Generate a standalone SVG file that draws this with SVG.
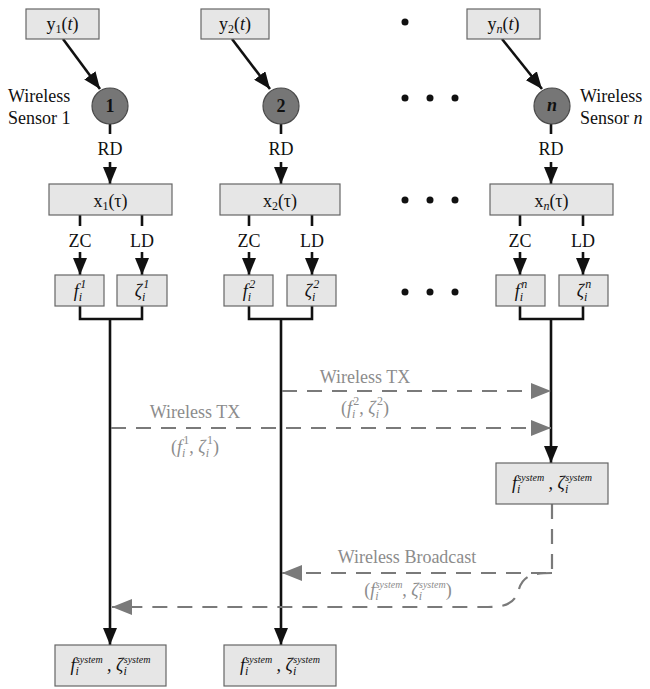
<svg xmlns="http://www.w3.org/2000/svg" width="650" height="689" viewBox="0 0 650 689" font-family="Liberation Serif, Times New Roman, serif">
<style>
  .box{fill:#e6e6e6;stroke:#666;stroke-width:1.2}
  .node{fill:#767676;stroke:#4a4a4a;stroke-width:1.2}
  .t{font-family:'Liberation Serif',serif;font-size:18px;fill:#111}
  .g{font-family:'Liberation Serif',serif;font-size:18px;fill:#8c8c8c}
  .i{font-style:italic}
  .s{font-size:12px}
  .ss{font-size:10px}
  .blk{stroke:#111;stroke-width:2.6;fill:none}
  .dash{stroke:#7a7a7a;stroke-width:2.2;fill:none;stroke-dasharray:15 10}
  .dot{fill:#111}
</style>
<defs>
  <marker id="ab" viewBox="0 0 17 14" refX="17" refY="7" markerWidth="17" markerHeight="14" markerUnits="userSpaceOnUse" orient="auto">
    <path d="M0,0 L17,7 L0,14 z" fill="#111"/>
  </marker>
  <marker id="ag" viewBox="0 0 20 16" refX="20" refY="8" markerWidth="20" markerHeight="16" markerUnits="userSpaceOnUse" orient="auto">
    <path d="M0,0 L20,8 L0,16 z" fill="#7a7a7a"/>
  </marker>
</defs>

<g id="connectors">
  <line class="blk" x1="63" y1="39" x2="100" y2="89" marker-end="url(#ab)"/>
  <line class="blk" x1="232" y1="39" x2="270" y2="89" marker-end="url(#ab)"/>
  <line class="blk" x1="502" y1="39" x2="542" y2="89" marker-end="url(#ab)"/>
  <line class="blk" x1="110" y1="124" x2="110" y2="134"/>
  <line class="blk" x1="281" y1="124" x2="281" y2="134"/>
  <line class="blk" x1="551" y1="124" x2="551" y2="134"/>
  <line class="blk" x1="110" y1="162" x2="110" y2="184" marker-end="url(#ab)"/>
  <line class="blk" x1="281" y1="162" x2="281" y2="184" marker-end="url(#ab)"/>
  <line class="blk" x1="551" y1="162" x2="551" y2="184" marker-end="url(#ab)"/>
  <line class="blk" x1="80" y1="215" x2="80" y2="226"/>
  <line class="blk" x1="142" y1="215" x2="142" y2="226"/>
  <line class="blk" x1="249" y1="215" x2="249" y2="226"/>
  <line class="blk" x1="312" y1="215" x2="312" y2="226"/>
  <line class="blk" x1="520" y1="215" x2="520" y2="226"/>
  <line class="blk" x1="583" y1="215" x2="583" y2="226"/>
  <line class="blk" x1="80" y1="252" x2="80" y2="275" marker-end="url(#ab)"/>
  <line class="blk" x1="142" y1="252" x2="142" y2="275" marker-end="url(#ab)"/>
  <line class="blk" x1="249" y1="252" x2="249" y2="275" marker-end="url(#ab)"/>
  <line class="blk" x1="312" y1="252" x2="312" y2="275" marker-end="url(#ab)"/>
  <line class="blk" x1="520" y1="252" x2="520" y2="275" marker-end="url(#ab)"/>
  <line class="blk" x1="583" y1="252" x2="583" y2="275" marker-end="url(#ab)"/>
  <path class="blk" d="M80,306 V319 H142 V306 M110,319 V645" marker-end="url(#ab)"/>
  <path class="blk" d="M249,306 V319 H312 V306 M281,319 V645" marker-end="url(#ab)"/>
  <path class="blk" d="M520,306 V319 H583 V306 M551,319 V463" marker-end="url(#ab)"/>
  <line class="dash" x1="282" y1="391" x2="551" y2="391" marker-end="url(#ag)"/>
  <line class="dash" x1="111" y1="428" x2="551" y2="428" marker-end="url(#ag)"/>
  <path class="dash" d="M552,504 V573 H282" marker-end="url(#ag)"/>
  <path class="dash" d="M552,573 C532,573 523,576 519,589 C515,603 507,607 488,607 L112,607" marker-end="url(#ag)"/>
</g>

<g id="y1"><rect class="box" x="26" y="9" width="73" height="30"/>
  <text class="t" x="62.5" y="30" text-anchor="middle">y<tspan class="s" dy="3">1</tspan><tspan dy="-3">(</tspan><tspan class="i">t</tspan>)</text></g>
<g id="y2"><rect class="box" x="201" y="9" width="68" height="30"/>
  <text class="t" x="235" y="30" text-anchor="middle">y<tspan class="s" dy="3">2</tspan><tspan dy="-3">(</tspan><tspan class="i">t</tspan>)</text></g>
<g id="yn"><rect class="box" x="467" y="9" width="73" height="30"/>
  <text class="t" x="503.5" y="30" text-anchor="middle">y<tspan class="s i" dy="3">n</tspan><tspan dy="-3">(</tspan><tspan class="i">t</tspan>)</text></g>

<g id="sensor1"><circle class="node" cx="110" cy="106" r="18"/>
  <text class="t" x="110" y="112" text-anchor="middle" font-weight="bold" font-size="15">1</text>
  <text class="t" x="8" y="102">Wireless</text><text class="t" x="8" y="124">Sensor 1</text></g>
<g id="sensor2"><circle class="node" cx="281" cy="106" r="18"/>
  <text class="t" x="281" y="112" text-anchor="middle" font-weight="bold" font-size="15">2</text></g>
<g id="sensorn"><circle class="node" cx="552" cy="106" r="18"/>
  <text class="t i" x="552" y="111" text-anchor="middle" font-weight="bold" font-size="15">n</text>
  <text class="t" x="580" y="102">Wireless</text><text class="t" x="580" y="124">Sensor <tspan class="i">n</tspan></text></g>

<g id="rd-labels">
  <text class="t" x="110" y="155" text-anchor="middle">RD</text>
  <text class="t" x="281" y="155" text-anchor="middle">RD</text>
  <text class="t" x="551" y="155" text-anchor="middle">RD</text>
</g>

<g id="x1"><rect class="box" x="49" y="184" width="123" height="31"/>
  <text class="t" x="110.5" y="207" text-anchor="middle">x<tspan class="s" dy="3">1</tspan><tspan dy="-3">(τ)</tspan></text></g>
<g id="x2"><rect class="box" x="220" y="184" width="120" height="31"/>
  <text class="t" x="280" y="207" text-anchor="middle">x<tspan class="s" dy="3">2</tspan><tspan dy="-3">(τ)</tspan></text></g>
<g id="xn"><rect class="box" x="490" y="184" width="123" height="31"/>
  <text class="t" x="551.5" y="207" text-anchor="middle">x<tspan class="s i" dy="3">n</tspan><tspan dy="-3">(τ)</tspan></text></g>

<g id="zcld-labels">
  <text class="t" x="80" y="247" text-anchor="middle">ZC</text>
  <text class="t" x="142" y="247" text-anchor="middle">LD</text>
  <text class="t" x="249" y="247" text-anchor="middle">ZC</text>
  <text class="t" x="312" y="247" text-anchor="middle">LD</text>
  <text class="t" x="520" y="247" text-anchor="middle">ZC</text>
  <text class="t" x="583" y="247" text-anchor="middle">LD</text>
</g>

<g id="f1"><rect class="box" x="55" y="275" width="49" height="31"/>
  <text class="t i" x="80" y="297" text-anchor="middle">f<tspan class="s" dy="4">i</tspan><tspan class="s" dx="-2" dy="-13">1</tspan></text></g>
<g id="z1"><rect class="box" x="117" y="275" width="50" height="31"/>
  <text class="t i" x="142" y="297" text-anchor="middle">ζ<tspan class="s" dy="4">i</tspan><tspan class="s" dx="-2" dy="-13">1</tspan></text></g>
<g id="f2"><rect class="box" x="224" y="275" width="49" height="31"/>
  <text class="t i" x="249" y="297" text-anchor="middle">f<tspan class="s" dy="4">i</tspan><tspan class="s" dx="-2" dy="-13">2</tspan></text></g>
<g id="z2"><rect class="box" x="287" y="275" width="49" height="31"/>
  <text class="t i" x="312" y="297" text-anchor="middle">ζ<tspan class="s" dy="4">i</tspan><tspan class="s" dx="-2" dy="-13">2</tspan></text></g>
<g id="fn"><rect class="box" x="496" y="275" width="49" height="31"/>
  <text class="t i" x="521" y="297" text-anchor="middle">f<tspan class="s" dy="4">i</tspan><tspan class="s" dx="-2" dy="-13">n</tspan></text></g>
<g id="zn"><rect class="box" x="559" y="275" width="49" height="31"/>
  <text class="t i" x="584" y="297" text-anchor="middle">ζ<tspan class="s" dy="4">i</tspan><tspan class="s" dx="-2" dy="-13">n</tspan></text></g>

<g id="sysn"><rect class="box" x="496" y="463" width="112" height="41"/>
  <text class="t i" x="552" y="489" text-anchor="middle">f<tspan class="s" dy="4">i</tspan><tspan class="ss" dx="-3" dy="-12">system</tspan><tspan dy="8"> , ζ</tspan><tspan class="s" dy="4">i</tspan><tspan class="ss" dx="-3" dy="-12">system</tspan></text></g>
<g id="sys1"><rect class="box" x="55" y="645" width="111" height="41"/>
  <text class="t i" x="110.5" y="671" text-anchor="middle">f<tspan class="s" dy="4">i</tspan><tspan class="ss" dx="-3" dy="-12">system</tspan><tspan dy="8"> , ζ</tspan><tspan class="s" dy="4">i</tspan><tspan class="ss" dx="-3" dy="-12">system</tspan></text></g>
<g id="sys2"><rect class="box" x="224" y="645" width="112" height="41"/>
  <text class="t i" x="280" y="671" text-anchor="middle">f<tspan class="s" dy="4">i</tspan><tspan class="ss" dx="-3" dy="-12">system</tspan><tspan dy="8"> , ζ</tspan><tspan class="s" dy="4">i</tspan><tspan class="ss" dx="-3" dy="-12">system</tspan></text></g>

<g id="tx-labels">
  <text class="g" x="365" y="383" text-anchor="middle">Wireless TX</text>
  <text class="g" x="365" y="414" text-anchor="middle">(<tspan class="i">f</tspan><tspan class="s i" dy="4">i</tspan><tspan class="s" dx="-2" dy="-13">2</tspan><tspan dy="9">, </tspan><tspan class="i">ζ</tspan><tspan class="s i" dy="4">i</tspan><tspan class="s" dx="-2" dy="-13">2</tspan><tspan dy="9">)</tspan></text>
  <text class="g" x="195" y="418" text-anchor="middle">Wireless TX</text>
  <text class="g" x="195" y="453" text-anchor="middle">(<tspan class="i">f</tspan><tspan class="s i" dy="4">i</tspan><tspan class="s" dx="-2" dy="-13">1</tspan><tspan dy="9">, </tspan><tspan class="i">ζ</tspan><tspan class="s i" dy="4">i</tspan><tspan class="s" dx="-2" dy="-13">1</tspan><tspan dy="9">)</tspan></text>
  <text class="g" x="407" y="563" text-anchor="middle">Wireless Broadcast</text>
  <text class="g" x="408" y="596" text-anchor="middle">(<tspan class="i">f</tspan><tspan class="s i" dy="4">i</tspan><tspan class="ss i" dx="-3" dy="-12">system</tspan><tspan dy="8">, </tspan><tspan class="i">ζ</tspan><tspan class="s i" dy="4">i</tspan><tspan class="ss i" dx="-3" dy="-12">system</tspan><tspan dy="8">)</tspan></text>
</g>

<g id="ellipsis">
  <circle class="dot" cx="405" cy="22" r="3.5"/>
  <circle class="dot" cx="405" cy="98" r="3.5"/><circle class="dot" cx="430" cy="98" r="3.5"/><circle class="dot" cx="455" cy="98" r="3.5"/>
  <circle class="dot" cx="405" cy="200" r="3.5"/><circle class="dot" cx="430" cy="200" r="3.5"/><circle class="dot" cx="455" cy="200" r="3.5"/>
  <circle class="dot" cx="405" cy="292" r="3.5"/><circle class="dot" cx="430" cy="292" r="3.5"/><circle class="dot" cx="455" cy="292" r="3.5"/>
</g>
</svg>
